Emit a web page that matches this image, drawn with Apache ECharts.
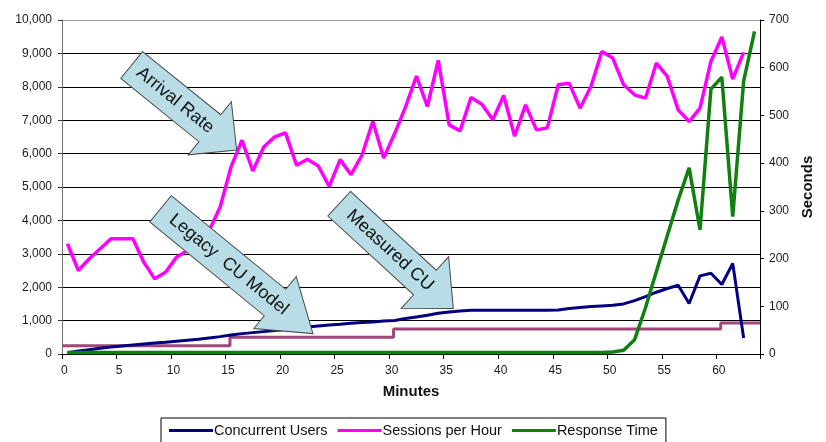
<!DOCTYPE html>
<html>
<head>
<meta charset="utf-8">
<script src="https://cdn.jsdelivr.net/npm/echarts@6/dist/echarts.min.js"></script>
<style>
html,body{margin:0;padding:0;background:#fff;}
#chart{width:826px;height:442px;}
</style>
</head>
<body>
<div id="chart"></div>
<script>
// ---- data ----
const minutes = ['0','1','2','3','4','5','6','7','8','9','10','11','12','13','14','15','16','17','18','19',
  '20','21','22','23','24','25','26','27','28','29','30','31','32','33','34','35','36','37','38','39',
  '40','41','42','43','44','45','46','47','48','49','50','51','52','53','54','55','56','57','58','59',
  '60','61','62','63'];

const concurrentUsers = [40,90,130,170,210,240,270,300,330,350,380,410,440,480,520,570,610,640,670,700,
  730,770,810,840,870,890,920,940,960,990,1000,1060,1110,1160,1220,1260,1290,1310,1310,1310,
  1310,1310,1310,1310,1310,1320,1360,1390,1420,1440,1460,1500,1600,1720,1850,1960,2060,1510,2340,2420,
  2080,2710,480];

const sessionsPerHour = [3300,2500,2850,3150,3450,3450,3450,2750,2250,2450,2900,3100,3350,3700,4400,5600,6400,5480,6200,6500,
  6620,5650,5830,5630,5020,5820,5370,5950,6960,5870,6600,7400,8320,7410,8790,6860,6680,7680,7480,7010,
  7740,6520,7460,6710,6770,8060,8110,7360,8010,9060,8860,8060,7760,7660,8710,8310,7310,6960,7360,8760,
  9490,8230,9030];

const responseTime = [3,3,3,3,3,3,3,3,3,3,3,3,3,3,3,3,3,3,3,3,
  3,3,3,3,3,3,3,3,3,3,3,3,3,3,3,3,3,3,3,3,
  3,3,3,3,3,3,3,3,3,3,4,8,30,97,173,248,323,390,260,555,
  580,288,572,676];

const legacyMinutes = [0,15.4,30.4,60.4,64];
const legacyCU = [250,500,750,930,930];

const leftTicks = [0,1000,2000,3000,4000,5000,6000,7000,8000,9000,10000];

const seriesNames = ['Concurrent Users','Sessions per Hour','Response Time'];
const annotationTexts = ['Arrival Rate','Legacy  CU Model','Measured CU'];

// ---- chart ----
const chart = echarts.init(document.getElementById('chart'), null, {renderer:'canvas'});

function arrow(cfg, text){
  const L = cfg.len, hl = cfg.head, sw = cfg.sw/2, hw = cfg.hw/2;
  return {
    type:'group', x:cfg.x, y:cfg.y, rotation:-cfg.angle*Math.PI/180, z:100,
    children:[
      {type:'polygon', z:100,
        shape:{points:[[0,-sw],[L-hl,-sw],[L-hl,-hw],[L,0],[L-hl,hw],[L-hl,sw],[0,sw]]},
        style:{fill:'#b8dde7', stroke:'#4a4a4a', lineWidth:1}},
      {type:'text', z:101, x:cfg.tx, y:0,
        style:{text:text, font:'18px "Liberation Sans", Arial, sans-serif', fill:'#111',
          align:'center', verticalAlign:'middle'}}
    ]
  };
}

const labelFont = {fontFamily:'"Liberation Sans", Arial, sans-serif', fontSize:12, color:'#1a1a1a'};
const gridColors = leftTicks.map((v,i)=> i===leftTicks.length-1 ? '#9a9a9a' : '#000');

const option = {
  backgroundColor:'#fff',
  animation:false,
  grid:{left:62, right:66, top:20, bottom:88, containLabel:false},
  legend:{
    data:seriesNames,
    icon:'rect',
    left:161, top:418,
    padding:[5,8,10,8],
    itemGap:10, itemWidth:44, itemHeight:3,
    borderColor:'#000', borderWidth:1,
    textStyle:{fontFamily:'"Liberation Sans", Arial, sans-serif', fontSize:14.5, color:'#111', padding:[0,0,0,-4]}
  },
  xAxis:[
    {type:'category', data:minutes, boundaryGap:true,
      axisLine:{lineStyle:{color:'#000', width:1}},
      axisTick:{show:true, interval:4, length:5, lineStyle:{color:'#000'}},
      axisLabel:Object.assign({interval:4, margin:11, padding:[0,6,0,0]}, labelFont),
      splitLine:{show:false},
      name:'Minutes', nameLocation:'middle', nameGap:30,
      nameTextStyle:{fontFamily:'"Liberation Sans", Arial, sans-serif', fontSize:15, fontWeight:'bold', color:'#111'}
    },
    {type:'value', min:0, max:64, show:false}
  ],
  yAxis:[
    {type:'value', min:0, max:10000, interval:1000, position:'left',
      axisLine:{show:true, lineStyle:{color:'#707070'}},
      axisTick:{show:true, length:4, lineStyle:{color:'#333'}},
      axisLabel:Object.assign({margin:10, formatter:v=>v.toLocaleString('en-US')}, labelFont),
      splitLine:{show:true, lineStyle:{color:gridColors, width:1}}
    },
    {type:'value', min:0, max:700, interval:100, position:'right',
      axisLine:{show:true, lineStyle:{color:'#000'}},
      axisTick:{show:true, length:4, lineStyle:{color:'#000'}},
      axisLabel:Object.assign({margin:9}, labelFont),
      splitLine:{show:false},
      name:'Seconds', nameLocation:'middle', nameRotate:90, nameGap:37,
      nameTextStyle:{fontFamily:'"Liberation Sans", Arial, sans-serif', fontSize:15, fontWeight:'bold', color:'#111'}
    }
  ],
  series:[
    {name:'Legacy CU Model', type:'line', xAxisIndex:1, yAxisIndex:0, step:'end',
      data:legacyMinutes.map((m,i)=>[m, legacyCU[i]]),
      symbol:'none', lineStyle:{color:'#a0467a', width:3}, itemStyle:{color:'#a0467a'}, z:2},
    {name:'Concurrent Users', type:'line', xAxisIndex:0, yAxisIndex:0, data:concurrentUsers,
      symbol:'none', lineStyle:{color:'#000080', width:3}, itemStyle:{color:'#000080'}, z:3},
    {name:'Sessions per Hour', type:'line', xAxisIndex:0, yAxisIndex:0, data:sessionsPerHour,
      symbol:'none', lineStyle:{color:'#ff00ff', width:3.5}, itemStyle:{color:'#ff00ff'}, z:4},
    {name:'Response Time', type:'line', xAxisIndex:0, yAxisIndex:1, data:responseTime,
      symbol:'none', lineStyle:{color:'#118011', width:3.5}, itemStyle:{color:'#118011'}, z:5}
  ],
  graphic:[
    arrow({x:131.7, y:65, angle:39, len:135, head:34.5, sw:34.7, hw:68.5, tx:56}, annotationTexts[0]),
    arrow({x:160.5, y:208.8, angle:39.3, len:197, head:49, sw:34, hw:67, tx:88}, annotationTexts[1]),
    arrow({x:339.2, y:203.7, angle:42.6, len:155, head:38.5, sw:33.5, hw:70, tx:69}, annotationTexts[2])
  ]
};
chart.setOption(option);
</script>
</body>
</html>
